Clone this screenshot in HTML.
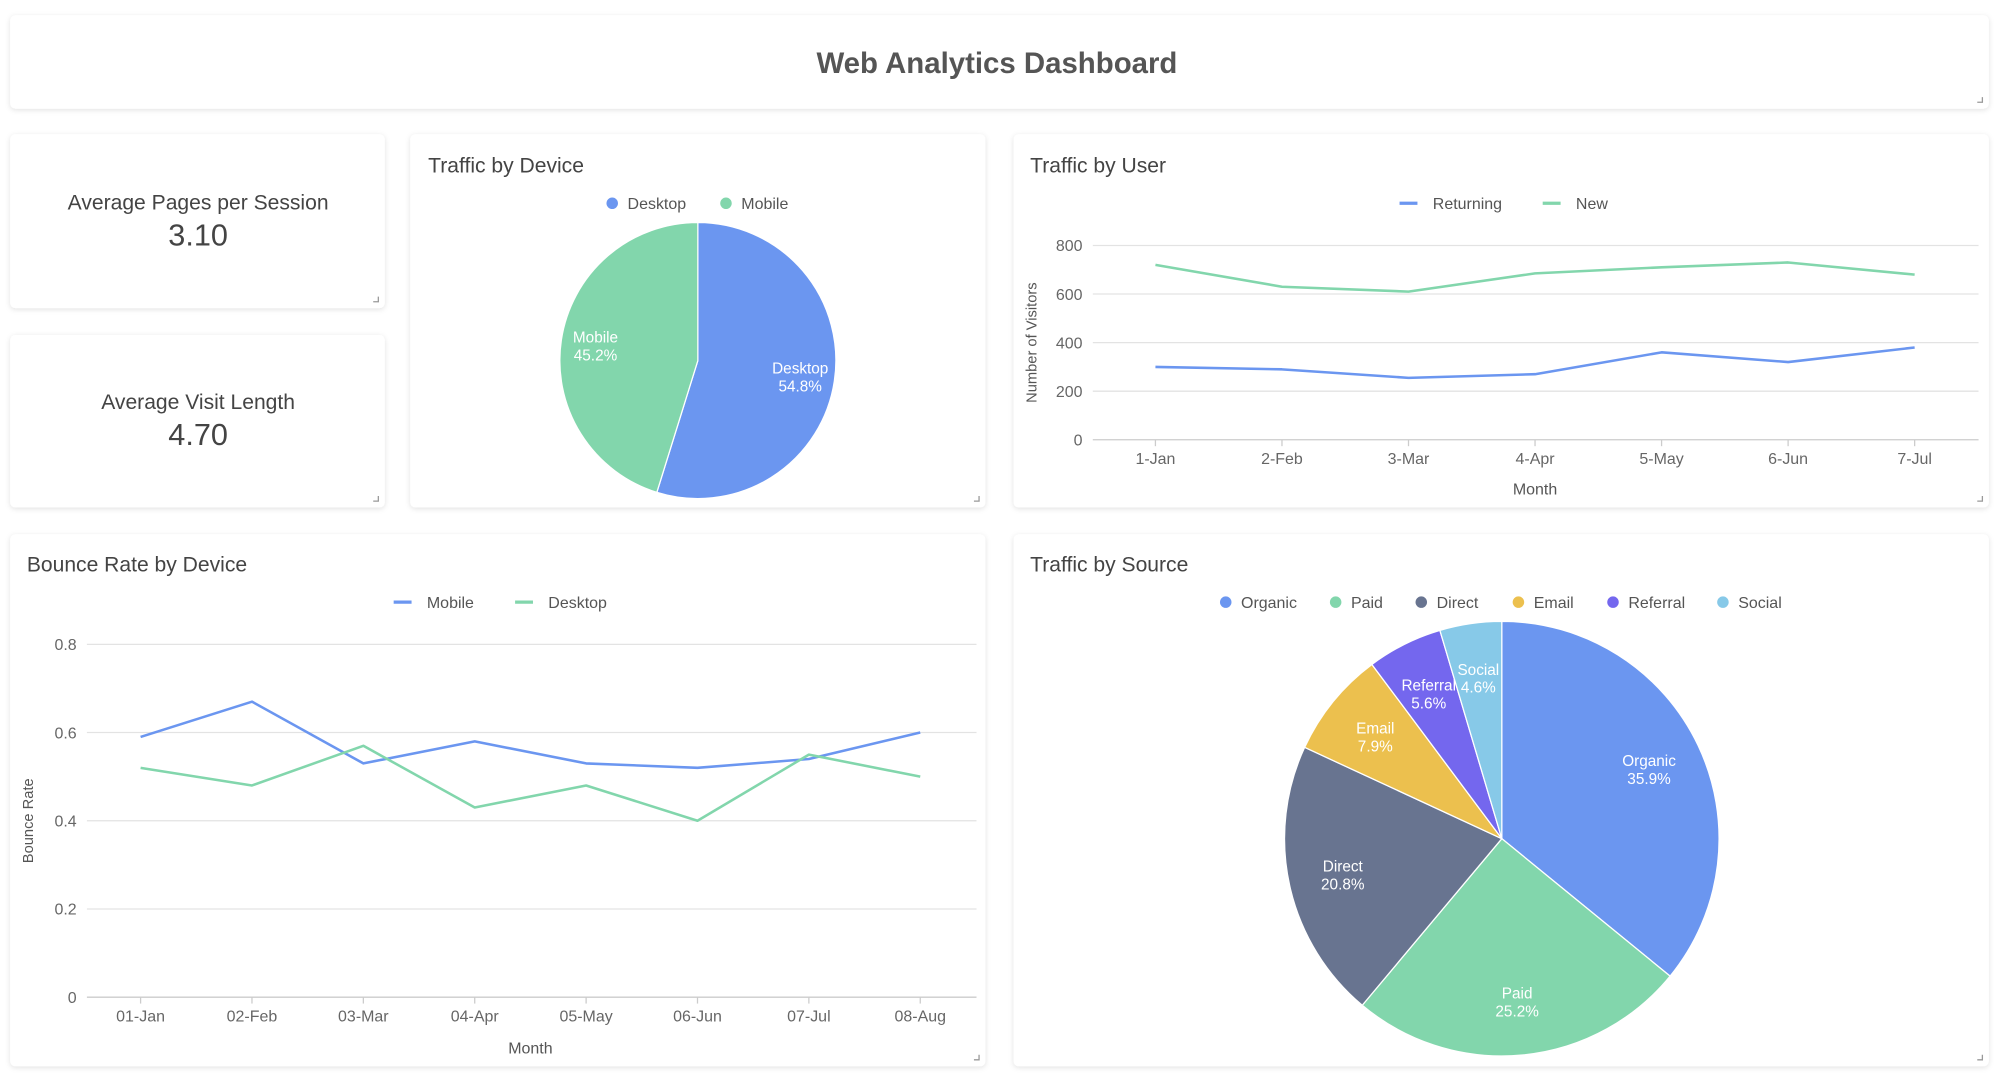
<!DOCTYPE html>
<html><head><meta charset="utf-8"><style>
html,body{margin:0;padding:0;background:#fff;overflow:hidden}
svg{display:block;font-family:"Liberation Sans",sans-serif}
</style></head><body>
<svg id="s" width="1999" height="1079" viewBox="0 0 1564 844" preserveAspectRatio="none">
<defs><filter id="sh" x="-5%" y="-5%" width="110%" height="115%"><feDropShadow dx="0" dy="1" stdDeviation="2" flood-color="#000" flood-opacity="0.12"/></filter></defs>
<g id="cards"></g>
<text x="780" y="57" text-anchor="middle" font-size="23" font-weight="bold" fill="#555">Web Analytics Dashboard</text>
<text x="155" y="164" text-anchor="middle" font-size="16.5" fill="#444">Average Pages per Session</text>
<text x="155" y="192" text-anchor="middle" font-size="24" fill="#444">3.10</text>
<text x="155" y="320" text-anchor="middle" font-size="16.5" fill="#444">Average Visit Length</text>
<text x="155" y="348" text-anchor="middle" font-size="24" fill="#444">4.70</text>
<text x="335" y="135" font-size="16.5" fill="#444">Traffic by Device</text>
<text x="806" y="135" font-size="16.5" fill="#444">Traffic by User</text>
<text x="21" y="447" font-size="16.5" fill="#444">Bounce Rate by Device</text>
<text x="806" y="447" font-size="16.5" fill="#444">Traffic by Source</text>
<g id="g"></g>
</svg>
<script>
const deviceLabels=["Desktop","Mobile"];
const deviceValues=[54.8,45.2];
const userMonths=["1-Jan","2-Feb","3-Mar","4-Apr","5-May","6-Jun","7-Jul"];
const returningValues=[300,290,255,270,360,320,380];
const newValues=[720,630,610,685,710,730,680];
const userTicks=[0,200,400,600,800];
const bounceMonths=["01-Jan","02-Feb","03-Mar","04-Apr","05-May","06-Jun","07-Jul","08-Aug"];
const mobileBounce=[0.59,0.67,0.53,0.58,0.53,0.52,0.54,0.60];
const desktopBounce=[0.52,0.48,0.57,0.43,0.48,0.40,0.55,0.50];
const bounceTicks=[0,0.2,0.4,0.6,0.8];
const sourceLabels=["Organic","Paid","Direct","Email","Referral","Social"];
const sourceValues=[35.9,25.2,20.8,7.9,5.6,4.6];

const NS="http://www.w3.org/2000/svg";
const G=document.getElementById('g');
function mk(tag,at,parent,txt){const e=document.createElementNS(NS,tag);for(const k in at)e.setAttribute(k,at[k]);if(txt!==undefined)e.textContent=txt;(parent||G).appendChild(e);return e;}
const BLUE="#6b96f0",GREEN="#82d6ac";
const srcColors=["#6b96f0","#82d6ac","#687490","#ecc04e","#7467ee","#87c9e8"];

// cards
const C=document.getElementById('cards');
[["title-card",8,12,1548,73],["pages-card",8,105,293,136],["visit-card",8,262,293,135],["device-card",321,105,450,292],["user-card",793,105,763,292],["bounce-card",8,418,763,416],["source-card",793,418,763,416]].forEach(c=>{
  const r=mk('rect',{x:c[1],y:c[2],width:c[3],height:c[4],rx:4,fill:'#fff',filter:'url(#sh)'},C);
  
  
  const p=mk('path',{d:`M${c[1]+c[3]-9} ${c[2]+c[4]-5}h4v-4`,stroke:'#999','stroke-width':1,fill:'none'},C);
  
  
});

function legend(items,colors,y,type){
  items.forEach((it,i)=>{
    if(type==='dot'){const d=mk('circle',{cx:it.x,cy:y,r:4.5,fill:colors[i]});}
    else{const d=mk('line',{x1:it.x-7,x2:it.x+7,y1:y,y2:y,stroke:colors[i],'stroke-width':2.5});}
    const t=mk('text',{x:it.x+(type==='dot'?12:19),y:y+4.5,'font-size':12.5,fill:'#555'},G,it.l);
    
    
  });
}

function pie(cx,cy,r,labels,values,colors,name){
  const tot=values.reduce((a,b)=>a+b,0);let a0=0;
  values.forEach((v,i)=>{
    const a1=a0+v/tot*2*Math.PI;
    const p=(a)=>[cx+r*Math.sin(a),cy-r*Math.cos(a)];
    const s=p(a0),e=p(a1);
    const path=mk('path',{d:`M${cx} ${cy}L${s[0]} ${s[1]}A${r} ${r} 0 ${a1-a0>Math.PI?1:0} 1 ${e[0]} ${e[1]}Z`,fill:colors[i],stroke:'#fff','stroke-width':1});
    
    
    const m=(a0+a1)/2,lx=cx+r*0.75*Math.sin(m),ly=cy-r*0.75*Math.cos(m);
    const t=mk('text',{x:lx,y:ly-2,'text-anchor':'middle','font-size':12,fill:'#fff'});
    
    
    mk('tspan',{x:lx,dy:0},t,labels[i]);
    mk('tspan',{x:lx,dy:14},t,values[i].toFixed(1)+'%');
    a0=a1;
  });
}

// device pie
legend([{x:479,l:"Desktop"},{x:568,l:"Mobile"}],[BLUE,GREEN],159,'dot');
pie(546,282,108,deviceLabels,deviceValues,[BLUE,GREEN],'device');

// source pie
legend([{x:959,l:"Organic"},{x:1045,l:"Paid"},{x:1112,l:"Direct"},{x:1188,l:"Email"},{x:1262,l:"Referral"},{x:1348,l:"Social"}],srcColors,471,'dot');
pie(1175,656,170,sourceLabels,sourceValues,srcColors,'source');

function lineChart(o){
  const yS=v=>o.y0-(v-o.tmin)/(o.tmax-o.tmin)*(o.y0-o.y1);
  const xS=i=>o.xa+i*(o.xb-o.xa)/(o.cats.length-1);
  o.ticks.forEach(t=>{
    const l=mk('line',{x1:o.gx0,x2:o.gx1,y1:yS(t),y2:yS(t),stroke:t===o.tmin?'#ccc':'#e3e3e3','stroke-width':1});
    
    
    const tx=mk('text',{x:o.gx0-8,y:yS(t)+4.5,'text-anchor':'end','font-size':12.5,fill:'#666'},G,String(t));
    
    
  });
  o.cats.forEach((c,i)=>{
    const tk=mk('line',{x1:xS(i),x2:xS(i),y1:o.y0,y2:o.y0+5,stroke:'#ccc'});
    
    
    const tx=mk('text',{x:xS(i),y:o.y0+19,'text-anchor':'middle','font-size':12.5,fill:'#666'},G,c);
    
    
  });
  o.series.forEach((s,k)=>{
    const pl=mk('polyline',{points:s.map((v,i)=>xS(i)+','+yS(v)).join(' '),fill:'none',stroke:o.colors[k],'stroke-width':2,'stroke-linejoin':'round'});
    
    
  });
  const xt=mk('text',{x:o.mx,y:o.my,'text-anchor':'middle','font-size':12.5,fill:'#555'},G,'Month');
  
  
  const yt=mk('text',{x:0,y:0,'text-anchor':'middle','font-size':11.5,fill:'#555',transform:`translate(${o.ylx},${o.yly}) rotate(-90)`},G,o.ytitle);
  
  
}

legend([{x:1102,l:"Returning"},{x:1214,l:"New"}],[BLUE,GREEN],159,'line');
lineChart({cats:userMonths,series:[returningValues,newValues],colors:[BLUE,GREEN],names:['returning','new'],ticks:userTicks,tmin:0,tmax:800,y0:344,y1:192,xa:904,xb:1498,gx0:855,gx1:1548,mx:1201,my:387,ylx:811,yly:268,ytitle:'Number of Visitors'});

legend([{x:315,l:"Mobile"},{x:410,l:"Desktop"}],[BLUE,GREEN],471,'line');
lineChart({cats:bounceMonths,series:[mobileBounce,desktopBounce],colors:[BLUE,GREEN],names:['mobile','desktop'],ticks:bounceTicks,tmin:0,tmax:0.8,y0:780,y1:504,xa:110,xb:720,gx0:68,gx1:764,mx:415,my:824,ylx:26,yly:642,ytitle:'Bounce Rate'});
</script>
</body></html>
